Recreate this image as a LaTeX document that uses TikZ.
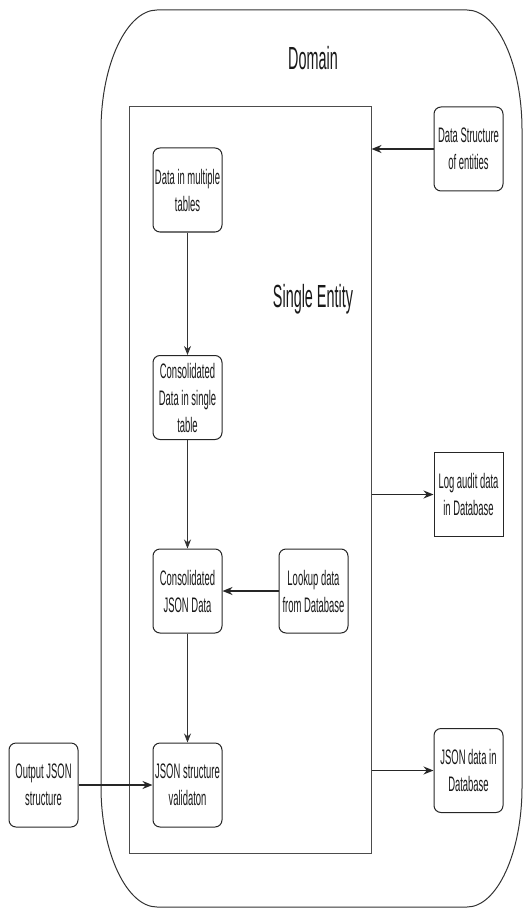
\documentclass[tikz,border=0pt]{standalone}
\usepackage{fontspec}
\usepackage{tikz}
\usetikzlibrary{arrows.meta}
\newfontfamily\narrowfont{Liberation Sans}[FakeStretch=0.45]

\tikzset{
  box/.style={draw=black!85, line width=1pt, rounded corners=7pt, minimum width=69pt, minimum height=84pt,
    inner sep=1pt, align=center, text=black!90, font=\narrowfont\fontsize{21}{27}\selectfont},
  plainbox/.style={box, rounded corners=0pt},
  title/.style={text=black!90, font=\narrowfont\fontsize{32}{32}\selectfont},
  flow/.style={draw=black!80, line width=0.8pt, -{Stealth[length=9pt,width=7pt]}},
  outflow/.style={draw=black!85, line width=1.4pt, -{Stealth[length=10pt,width=8pt]}},
}

\begin{document}
\begin{tikzpicture}[x=1pt,y=-1pt]
\useasboundingbox (0,0) rectangle (531,909);

% Domain border
\draw[black!80, line width=1pt] (157,10) -- (467,10)
  .. controls (497,10) and (522,64) .. (522,130) -- (522,787)
  .. controls (522,853) and (497,907) .. (467,907) -- (157,907)
  .. controls (127,907) and (101,853) .. (101,787) -- (101,130)
  .. controls (101,64) and (127,10) .. (157,10) -- cycle;
\node[title] (domain) at (313,58) {Domain};

% Single entity
\node[draw=black!70, line width=1pt, minimum width=242pt, minimum height=746pt, inner sep=0pt] (entity) at (250,480) {};
\node[title] (entitylabel) at (313,299) {Single Entity};

% Nodes
\node[box] (tables) at (187.5,190) {Data in multiple\\tables};
\node[box] (single) at (187.5,397.5) {Consolidated\\Data in single\\table};
\node[box] (json) at (187.5,591) {Consolidated\\JSON Data};
\node[box] (validation) at (187.5,785) {JSON structure\\validaton};
\node[box] (lookup) at (313.5,591) {Lookup data\\from Database};
\node[box] (output) at (43.5,785) {Output JSON\\structure};
\node[box] (structure) at (468.5,149) {Data Structure\\of entities};
\node[plainbox] (audit) at (468.5,494.5) {Log audit data\\in Database};
\node[box] (jsondb) at (468.5,770.5) {JSON data in\\Database};

% Arrows
\draw[flow] (tables) -- (single);
\draw[flow] (single) -- (json);
\draw[flow] (json) -- (validation);
\draw[outflow] (lookup) -- (json);
\draw[outflow] (output) -- (validation);
\draw[outflow] (structure) -- (entity.east |- structure);
\draw[outflow] (entity.east |- audit) -- (audit);
\draw[outflow] (entity.east |- jsondb) -- (jsondb);
\end{tikzpicture}
\end{document}
